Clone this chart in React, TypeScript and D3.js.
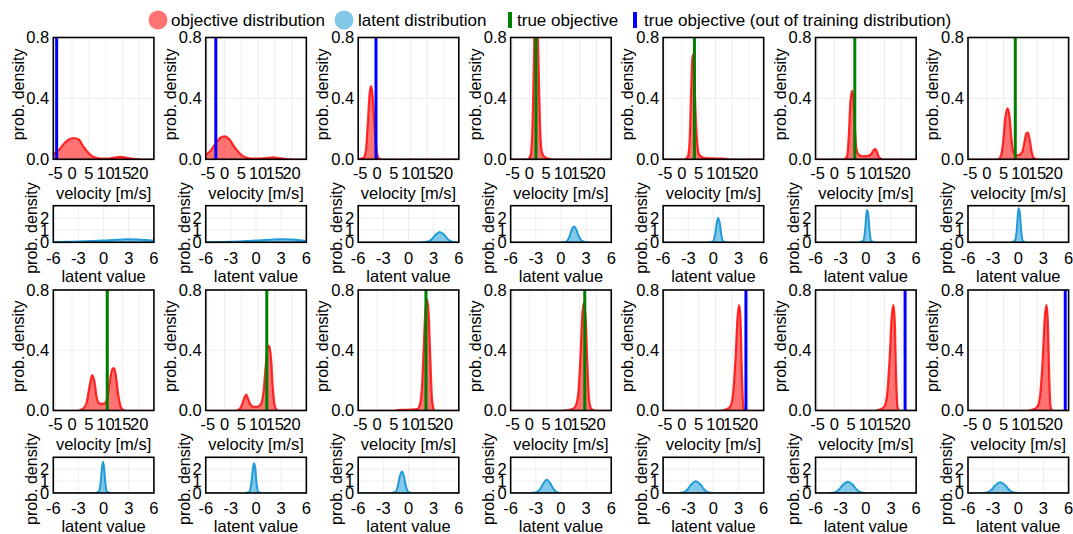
import React from 'react';
import * as d3 from 'd3';

// axis setup
const velocityDomain = [-5.6, 24.4];
const velocityTicks = [-5, 0, 5, 10, 15, 20];
const densityTicks = [0, 0.4, 0.8];
const latentDomain = [-6, 6];
const latentTicks = [-6, -3, 0, 3, 6];
const latentDensityTicks = [0, 1, 2];
const latentDensityMax = 3;

// true objective velocity per panel, and whether it lies outside the training range
const trueObjective = [-4.6, -2.6, -0.3, 1.95, 3.75, 6.1, 8.5, 10.5, 12.6, 14.6, 16.5, 19.1, 21.1, 23.4];
const outOfTraining = [true, true, true, false, false, false, false, false, false, false, false, true, true, true];

// objective distribution (velocity, density), row 1 then row 2
const objectiveRow1: [number, number][][] = [
  [[-5.6, 0.035], [-4, 0.06], [-2.5, 0.1], [-1, 0.13], [0.5, 0.14], [2, 0.13], [3.5, 0.08], [5, 0.04], [6.5, 0.015], [8.5, 0.005], [11, 0.005], [13, 0.013], [14.5, 0.016], [16, 0.012], [18, 0.003], [20, 0]],
  [[-5.6, 0.03], [-4, 0.06], [-2.5, 0.11], [-1, 0.145], [0, 0.15], [1.5, 0.13], [3, 0.08], [4.5, 0.04], [6, 0.015], [8, 0.005], [11, 0.004], [13, 0.01], [14.5, 0.012], [16, 0.008], [18, 0.002], [20, 0]],
  [[-5.6, 0], [-4, 0.01], [-3.3, 0.06], [-2.7, 0.25], [-2.2, 0.43], [-1.8, 0.48], [-1.4, 0.44], [-1, 0.32], [-0.5, 0.15], [0, 0.04], [0.6, 0.005], [1.2, 0]],
  [[-0.5, 0], [0.3, 0.02], [0.8, 0.15], [1.2, 0.5], [1.6, 0.9], [2, 1.0], [2.4, 0.9], [2.8, 0.55], [3.2, 0.2], [3.7, 0.05], [4.5, 0.015], [5.5, 0.005], [6.5, 0]],
  [[1, 0], [1.8, 0.02], [2.3, 0.12], [2.7, 0.4], [3.1, 0.66], [3.4, 0.69], [3.7, 0.55], [4.1, 0.3], [4.6, 0.1], [5.2, 0.03], [6.5, 0.01], [9, 0.006], [12, 0.004], [14, 0]],
  [[3, 0], [3.8, 0.02], [4.3, 0.15], [4.8, 0.38], [5.3, 0.45], [5.7, 0.4], [6.1, 0.22], [6.6, 0.07], [7.3, 0.03], [8.5, 0.02], [10, 0.022], [11, 0.035], [11.7, 0.06], [12.2, 0.068], [12.7, 0.05], [13.3, 0.015], [14.2, 0]],
  [[3.5, 0], [4.3, 0.03], [4.9, 0.12], [5.5, 0.27], [6.2, 0.334], [6.8, 0.28], [7.3, 0.15], [7.8, 0.06], [8.5, 0.03], [9.5, 0.028], [10.5, 0.045], [11.2, 0.11], [11.8, 0.17], [12.3, 0.175], [12.8, 0.13], [13.4, 0.05], [14, 0.01], [14.8, 0]],
];
const objectiveRow2: [number, number][][] = [
  [[2, 0], [3.2, 0.01], [4.3, 0.05], [5.2, 0.16], [6, 0.235], [6.7, 0.19], [7.4, 0.08], [8.3, 0.045], [9.5, 0.045], [10.5, 0.08], [11.3, 0.2], [12, 0.275], [12.5, 0.282], [13, 0.24], [13.8, 0.1], [14.6, 0.02], [15.5, 0]],
  [[3.5, 0], [4.5, 0.01], [5.4, 0.05], [6, 0.09], [6.5, 0.105], [7, 0.08], [7.7, 0.04], [8.6, 0.025], [9.8, 0.025], [10.8, 0.04], [11.6, 0.12], [12.3, 0.3], [12.9, 0.42], [13.4, 0.43], [13.9, 0.34], [14.4, 0.15], [15, 0.03], [15.7, 0]],
  [[5.5, 0], [7, 0.004], [10, 0.006], [12, 0.01], [12.8, 0.04], [13.4, 0.15], [13.9, 0.4], [14.4, 0.65], [14.9, 0.74], [15.4, 0.65], [15.9, 0.35], [16.4, 0.08], [17, 0]],
  [[10, 0], [12, 0.005], [13.5, 0.02], [14.5, 0.1], [15.2, 0.35], [15.8, 0.65], [16.3, 0.72], [16.8, 0.6], [17.3, 0.3], [17.8, 0.07], [18.5, 0.01], [19.5, 0]],
  [[12, 0], [13.5, 0.01], [14.5, 0.03], [15.3, 0.12], [16, 0.35], [16.6, 0.62], [17.1, 0.7], [17.5, 0.6], [17.9, 0.25], [18.3, 0.03], [18.7, 0]],
  [[12.5, 0], [14, 0.01], [15, 0.03], [15.8, 0.12], [16.5, 0.35], [17.1, 0.62], [17.6, 0.7], [18, 0.6], [18.4, 0.25], [18.8, 0.03], [19.2, 0]],
  [[12.7, 0], [14.2, 0.01], [15.2, 0.03], [16, 0.12], [16.7, 0.35], [17.3, 0.62], [17.8, 0.7], [18.2, 0.6], [18.6, 0.25], [19, 0.03], [19.4, 0]],
];

// latent distribution (latent value, density), row 1 then row 2
const latentRow1: [number, number][][] = [
  [[-6, 0.03], [-4, 0.05], [-2, 0.09], [0, 0.15], [1.5, 0.21], [2.7, 0.24], [4, 0.22], [5, 0.18], [6, 0.13]],
  [[-6, 0.01], [-4, 0.03], [-2, 0.07], [0, 0.14], [1.5, 0.21], [3, 0.25], [4.3, 0.22], [5.2, 0.17], [6, 0.11]],
  [[1.5, 0], [2.2, 0.04], [2.7, 0.2], [3.2, 0.6], [3.7, 0.85], [4.2, 0.65], [4.7, 0.25], [5.2, 0.05], [5.7, 0]],
  [[0, 0], [0.6, 0.05], [1.0, 0.45], [1.3, 1.05], [1.55, 1.3], [1.8, 1.1], [2.1, 0.55], [2.5, 0.12], [3, 0.01], [3.4, 0]],
  [[-0.6, 0], [-0.1, 0.05], [0.2, 0.6], [0.4, 1.6], [0.55, 2.0], [0.75, 1.6], [0.95, 0.6], [1.2, 0.05], [1.6, 0]],
  [[-0.8, 0], [-0.35, 0.1], [-0.1, 0.9], [0.05, 2.2], [0.15, 2.65], [0.3, 2.2], [0.45, 0.9], [0.65, 0.1], [1, 0]],
  [[-0.9, 0], [-0.45, 0.1], [-0.2, 0.9], [-0.05, 2.3], [0.05, 2.8], [0.2, 2.3], [0.35, 0.9], [0.55, 0.1], [0.9, 0]],
];
const latentRow2: [number, number][][] = [
  [[-1, 0], [-0.6, 0.1], [-0.35, 0.9], [-0.2, 2.1], [-0.08, 2.6], [0.05, 2.2], [0.2, 0.9], [0.4, 0.1], [0.8, 0]],
  [[-1.2, 0], [-0.8, 0.1], [-0.55, 0.9], [-0.38, 2.0], [-0.25, 2.5], [-0.1, 2.1], [0.05, 0.9], [0.25, 0.1], [0.6, 0]],
  [[-2, 0], [-1.6, 0.06], [-1.3, 0.5], [-1.05, 1.35], [-0.8, 1.8], [-0.55, 1.4], [-0.3, 0.55], [0, 0.08], [0.4, 0]],
  [[-3.6, 0], [-3, 0.05], [-2.5, 0.3], [-2.1, 0.8], [-1.7, 1.12], [-1.3, 0.85], [-0.9, 0.35], [-0.5, 0.06], [0, 0]],
  [[-4.2, 0], [-3.6, 0.05], [-3.1, 0.3], [-2.6, 0.75], [-2.1, 0.98], [-1.6, 0.75], [-1.1, 0.3], [-0.6, 0.05], [0, 0]],
  [[-4.3, 0], [-3.7, 0.05], [-3.2, 0.3], [-2.7, 0.72], [-2.15, 0.95], [-1.6, 0.72], [-1.1, 0.3], [-0.6, 0.05], [0, 0]],
  [[-4.3, 0], [-3.7, 0.05], [-3.2, 0.28], [-2.7, 0.68], [-2.15, 0.9], [-1.6, 0.68], [-1.1, 0.28], [-0.6, 0.05], [0, 0]],
];

const legendLabels = ['objective distribution', 'latent distribution', 'true objective', 'true objective (out of training distribution)'];

const W = 1073;
const H = 534;
const FONT = '"Liberation Sans", Arial, Helvetica, sans-serif';
const RED = '#ff0000';
const SKY = '#1f9bd7';
const GREEN = '#008000';
const BLUE = '#0000ff';
const GRID = '#e6e6e6';

const colLeft0 = 53.3;
const colStep = 152.45;
const plotW = 100.6;
const rows = [
  { top: 37.5, bottom: 159.3, lTop: 205.7, lBottom: 242.3 },
  { top: 290, bottom: 410.5, lTop: 457.3, lBottom: 493 },
];

const fmt = d3.format('.1f');

const Panel = ({ idx, row, col }: { idx: number; row: number; col: number }) => {
  const r = rows[row];
  const left = colLeft0 + col * colStep;
  const right = left + plotW;
  const x = d3.scaleLinear().domain(velocityDomain).range([left, right]);
  const y = d3.scaleLinear().domain([0, 0.8]).range([r.bottom, r.top]);
  const lx = d3.scaleLinear().domain(latentDomain).range([left, right]);
  const ly = d3.scaleLinear().domain([0, latentDensityMax]).range([r.lBottom, r.lTop]);

  const obj = (row === 0 ? objectiveRow1 : objectiveRow2)[col];
  const lat = (row === 0 ? latentRow1 : latentRow2)[col];

  const area = d3.area<[number, number]>().x((d) => x(d[0])).y0(y(0)).y1((d) => y(d[1])).curve(d3.curveMonotoneX);
  const line = d3.line<[number, number]>().x((d) => x(d[0])).y((d) => y(d[1])).curve(d3.curveMonotoneX);
  const lArea = d3.area<[number, number]>().x((d) => lx(d[0])).y0(ly(0)).y1((d) => ly(d[1])).curve(d3.curveMonotoneX);
  const lLine = d3.line<[number, number]>().x((d) => lx(d[0])).y((d) => ly(d[1])).curve(d3.curveMonotoneX);

  const clipTop = `clip-top-${idx}`;
  const clipLat = `clip-lat-${idx}`;
  const tx = x(trueObjective[idx]);

  return (
    <g>
      <defs>
        <clipPath id={clipTop}>
          <rect x={left} y={r.top} width={plotW} height={r.bottom - r.top} />
        </clipPath>
        <clipPath id={clipLat}>
          <rect x={left} y={r.lTop} width={plotW} height={r.lBottom - r.lTop} />
        </clipPath>
      </defs>

      {/* velocity panel */}
      {velocityTicks.map((t) => (
        <line key={'gx' + t} x1={x(t)} x2={x(t)} y1={r.top} y2={r.bottom} stroke={GRID} strokeWidth={0.7} />
      ))}
      {densityTicks.map((t) => (
        <line key={'gy' + t} x1={left} x2={right} y1={y(t)} y2={y(t)} stroke={GRID} strokeWidth={0.7} />
      ))}
      <g clipPath={`url(#${clipTop})`}>
        <path d={area(obj) || ''} fill={RED} fillOpacity={0.55} />
        <path d={line(obj) || ''} fill="none" stroke={RED} strokeWidth={2.2} strokeOpacity={0.8} />
        <line x1={left} x2={right} y1={y(0)} y2={y(0)} stroke={RED} strokeWidth={1.5} strokeOpacity={0.6} />
        <line x1={tx} x2={tx} y1={r.top} y2={r.bottom} stroke={outOfTraining[idx] ? BLUE : GREEN} strokeWidth={3} />
      </g>
      <rect x={left} y={r.top} width={plotW} height={r.bottom - r.top} fill="none" stroke="#000" strokeWidth={1.6} />
      {densityTicks.map((t) => (
        <text key={'ty' + t} x={left - 4} y={y(t)} dy="0.36em" textAnchor="end" fontSize={16.5}>{fmt(t)}</text>
      ))}
      {velocityTicks.map((t) => (
        <text key={'tx' + t} x={x(t)} y={r.bottom + 14} dy="0.36em" textAnchor="middle" fontSize={16.5}>{t}</text>
      ))}
      <text x={(left + right) / 2} y={r.bottom + 34} dy="0.36em" textAnchor="middle" fontSize={16.5}>velocity [m/s]</text>
      <text transform={`translate(${left - 35.5},${(r.top + r.bottom) / 2 - 4}) rotate(-90)`} dy="0.36em" textAnchor="middle" fontSize={16}>prob. density</text>

      {/* latent panel */}
      {latentTicks.map((t) => (
        <line key={'lgx' + t} x1={lx(t)} x2={lx(t)} y1={r.lTop} y2={r.lBottom} stroke={GRID} strokeWidth={0.7} />
      ))}
      {latentDensityTicks.map((t) => (
        <line key={'lgy' + t} x1={left} x2={right} y1={ly(t)} y2={ly(t)} stroke={GRID} strokeWidth={0.7} />
      ))}
      <g clipPath={`url(#${clipLat})`}>
        <path d={lArea(lat) || ''} fill={SKY} fillOpacity={0.55} />
        <path d={lLine(lat) || ''} fill="none" stroke={SKY} strokeWidth={2} />
        <line x1={left} x2={right} y1={ly(0)} y2={ly(0)} stroke={SKY} strokeWidth={1.5} strokeOpacity={0.6} />
      </g>
      <rect x={left} y={r.lTop} width={plotW} height={r.lBottom - r.lTop} fill="none" stroke="#000" strokeWidth={1.6} />
      {latentDensityTicks.map((t) => (
        <text key={'lty' + t} x={left - 4} y={ly(t)} dy="0.36em" textAnchor="end" fontSize={16.5}>{t}</text>
      ))}
      {latentTicks.map((t) => (
        <text key={'ltx' + t} x={lx(t)} y={r.lBottom + 15.5} dy="0.36em" textAnchor="middle" fontSize={16.5}>{t}</text>
      ))}
      <text x={(left + right) / 2} y={r.lBottom + 33.5} dy="0.36em" textAnchor="middle" fontSize={16.5}>latent value</text>
      <text transform={`translate(${left - 22},${(r.lTop + r.lBottom) / 2 + 4}) rotate(-90)`} dy="0.36em" textAnchor="middle" fontSize={16}>prob. density</text>
    </g>
  );
};

// legend marker centres and text starts (layout)
const legendMarkerX = [158, 344, 510, 635];
const legendTextX = [171, 358, 517, 644];
const legendY = 20;

const Legend = () => (
  <g>
    {legendLabels.map((label, i) => (
      <g key={label}>
        {i < 2 ? (
          <circle cx={legendMarkerX[i]} cy={legendY} r={9.5} fill={i === 0 ? RED : SKY} fillOpacity={0.55} />
        ) : (
          <rect x={legendMarkerX[i] - 2} y={legendY - 8} width={4} height={16} fill={i === 2 ? GREEN : BLUE} />
        )}
        <text x={legendTextX[i]} y={legendY} dy="0.36em" fontSize={17}>{label}</text>
      </g>
    ))}
  </g>
);

export default function App() {
  const panels: { idx: number; row: number; col: number }[] = [];
  for (let row = 0; row < 2; row++) {
    for (let col = 0; col < 7; col++) panels.push({ idx: row * 7 + col, row, col });
  }
  return (
    <svg width={W} height={H} viewBox={`0 0 ${W} ${H}`} style={{ position: 'absolute', left: 0, top: 0, background: '#fff' }} fontFamily={FONT} fill="#000">
      <rect width={W} height={H} fill="#fff" />
      <Legend />
      {panels.map((p) => (
        <Panel key={p.idx} {...p} />
      ))}
    </svg>
  );
}
